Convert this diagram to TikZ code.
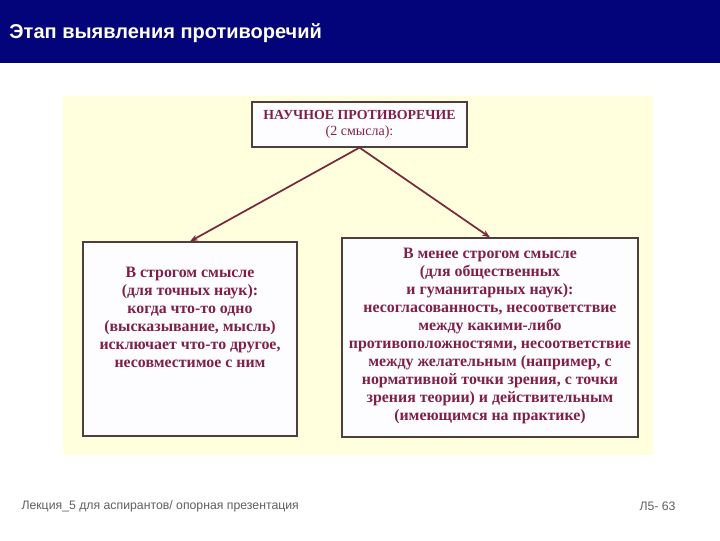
\documentclass[tikz,border=0pt]{standalone}
\usepackage{fontspec}
\setmainfont{Liberation Serif}
\newfontfamily\headfont{Liberation Sans}
\usetikzlibrary{arrows.meta}

\definecolor{slidenavy}{RGB}{4,4,122}
\definecolor{panelcream}{RGB}{255,255,221}
\definecolor{boxwhite}{RGB}{253,253,255}
\definecolor{boxedge}{RGB}{80,62,62}
\definecolor{maroontxt}{RGB}{128,32,72}
\definecolor{arrowred}{RGB}{122,40,62}
\definecolor{footgray}{RGB}{95,95,95}

\tikzset{every picture/.style={line width=0.75pt}}
\tikzset{
  box/.style={draw=boxedge, fill=boxwhite, line width=0.9pt, inner sep=0pt},
  boxtext/.style={text=maroontxt, align=center, inner sep=0.75pt,
    font=\fontsize{11.9}{13.5}\selectfont\bfseries},
  link/.style={draw=arrowred, line width=1.3pt, -{Stealth[length=6pt,width=4.5pt]}},
  foottext/.style={text=footgray, inner sep=0.75pt, font=\headfont\fontsize{9.2}{11}\selectfont}
}

\begin{document}
\begin{tikzpicture}[x=0.75pt,y=0.75pt,yscale=-1,xscale=1]
\useasboundingbox (0,0) rectangle (720,540);

%Shape: Rectangle [id:header]
\fill [slidenavy] (0,0) rectangle (720,63) ;
%Shape: Rectangle [id:panel]
\fill [panelcream] (63,96) rectangle (653,455) ;

% Text Node
\draw (8,33) node (title) [anchor=west][inner sep=0.75pt][text=white] {\headfont\bfseries\fontsize{15}{18}\selectfont Этап выявления противоречий};

%Shape: Rectangle [id:top]
\draw (359.5,124.5) node (top) [box, minimum width=161.25pt, minimum height=33.75pt, align=center, text=maroontxt]
  {{\fontsize{10.4}{12}\selectfont\bfseries НАУЧНОЕ ПРОТИВОРЕЧИЕ}\\[0.5pt]{\fontsize{10.5}{12}\selectfont (2 смысла):}};
%Shape: Rectangle [id:left]
\draw (190,339) node (left) [box, minimum width=160.5pt, minimum height=145.5pt] {};
%Shape: Rectangle [id:right]
\draw (490,337.5) node (right) [box, minimum width=222pt, minimum height=149.25pt] {};

% Text Node
\draw (190,317) node (lefttext) [boxtext] {В строгом смысле\\(для точных наук):\\когда что-то одно\\(высказывание, мысль)\\исключает что-то другое,\\несовместимое с ним};
% Text Node
\draw (490,335.5) node (righttext) [boxtext] {В менее строгом смысле\\(для общественных\\и гуманитарных наук):\\несогласованность, несоответствие\\между какими-либо\\противоположностями, несоответствие\\между желательным (например, с\\нормативной точки зрения, с точки\\зрения теории) и действительным\\(имеющимся на практике)};

%Straight Lines [id:toleft]
\draw [link] (top.south) -- (left.north) ;
%Straight Lines [id:toright]
\draw [link] (top.south) -- (right.north) ;

% Text Node
\draw (20,506) node (footer) [anchor=west][foottext] {Лекция\_5 для аспирантов/ опорная презентация};
% Text Node
\draw (677,506) node (pageno) [anchor=east][foottext] {Л5- 63};

\end{tikzpicture}
\end{document}
